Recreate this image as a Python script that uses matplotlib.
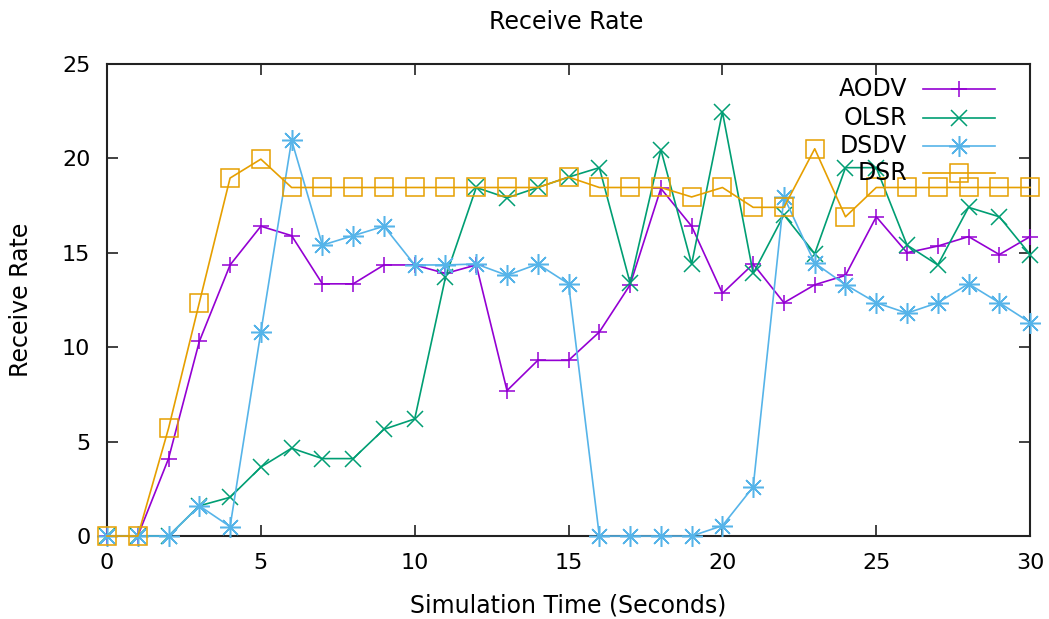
import matplotlib
matplotlib.use('Agg')
import matplotlib.pyplot as plt

plt.rcParams['font.family'] = ['DejaVu Sans']

time = list(range(31))
aodv = [0, 0, 4.1, 10.3, 14.35, 16.4, 15.9, 13.35, 13.35, 14.35, 14.35, 13.9, 14.35, 7.7, 9.3, 9.3,
        10.8, 13.3, 18.4, 16.4, 12.85, 14.4, 12.35, 13.3, 13.8, 16.9, 15.0, 15.35, 15.85, 14.9, 15.85]
olsr = [0, 0, 0, 1.6, 2.05, 3.65, 4.65, 4.1, 4.1, 5.65, 6.2, 13.7, 18.45, 17.9, 18.45, 19.0,
        19.5, 13.4, 20.45, 14.4, 22.45, 13.9, 17.0, 14.95, 19.5, 19.5, 15.4, 14.35, 17.4, 16.9, 14.9]
dsdv = [0, 0, 0, 1.6, 0.5, 10.8, 20.95, 15.4, 15.9, 16.4, 14.35, 14.35, 14.4, 13.8, 14.4, 13.35,
        0, 0, 0, 0, 0.55, 2.6, 17.95, 14.45, 13.3, 12.35, 11.8, 12.35, 13.35, 12.35, 11.3]
dsr = [0, 0, 5.7, 12.35, 18.95, 19.95, 18.45, 18.45, 18.45, 18.45, 18.45, 18.45, 18.45, 18.45, 18.45, 19.0,
       18.45, 18.45, 18.45, 17.95, 18.45, 17.4, 17.4, 20.5, 16.9, 18.45, 18.45, 18.45, 18.45, 18.45, 18.45]

# name, values, colour, marker, marker size (gnuplot default palette / point types)
series = [
    ('AODV', aodv, '#9400d3', '+', 12),
    ('OLSR', olsr, '#009e73', 'x', 11),
    ('DSDV', dsdv, '#56b4e9', (8, 2, 0), 15),
    ('DSR', dsr, '#e69f00', 's', 13),
]

fig = plt.figure(figsize=(10.49, 6.19), dpi=100)
ax = fig.add_axes([0.102, 0.134, 0.880, 0.763])

for name, vals, col, mk, ms in series:
    ax.plot(time, vals, color=col, lw=1.2, marker=mk, markersize=ms,
            markerfacecolor='none', markeredgecolor=col, markeredgewidth=1.1,
            clip_on=False, zorder=3)

ax.set_xlim(0, 30)
ax.set_ylim(0, 25)
ax.set_xticks(range(0, 31, 5))
ax.set_yticks(range(0, 26, 5))
ax.tick_params(direction='in', length=8, width=1.3, top=True, right=True,
               labelsize=16, pad=12, colors='#333333', labelcolor='black')
for sp in ax.spines.values():
    sp.set_linewidth(1.5)
    sp.set_color('#222222')

fig.text(566 / 1049, 1 - 22 / 619, 'Receive Rate', ha='center', va='center', fontsize=17)
ax.set_xlabel('Simulation Time (Seconds)', fontsize=17, va='center')
ax.xaxis.set_label_coords(0.5, -0.146)
ax.set_ylabel('Receive Rate', fontsize=17, va='center')
ax.yaxis.set_label_coords(-0.093, 0.5)

# gnuplot style key: right-aligned label, then line sample with marker
key_y = [0.947, 0.886, 0.826, 0.769]
for (name, vals, col, mk, ms), ky in zip(series, key_y):
    ax.text(0.867, ky, name, transform=ax.transAxes, ha='right', va='center',
            fontsize=17, zorder=5)
    ax.plot([0.884, 0.962], [ky, ky], transform=ax.transAxes, color=col, lw=1.2,
            clip_on=False, zorder=4)
    ax.plot([0.923], [ky], transform=ax.transAxes, color=col, marker=mk,
            markersize=ms, markerfacecolor='none', markeredgewidth=1.1,
            clip_on=False, zorder=4)

plt.savefig('out.png', dpi=100)
plt.close()
